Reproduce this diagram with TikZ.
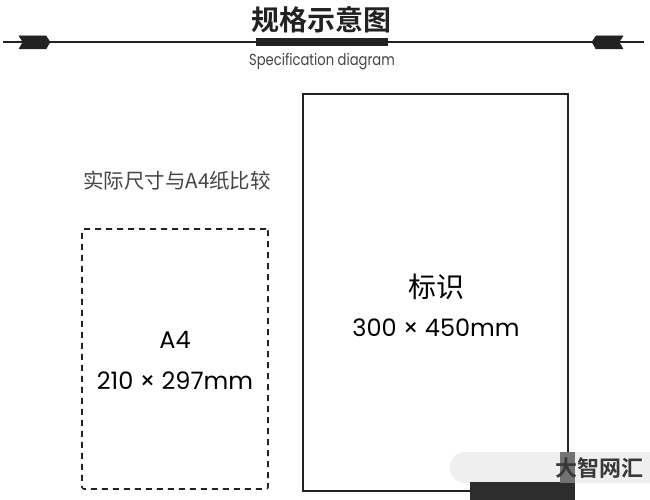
\documentclass[tikz,border=0pt]{standalone}
\usepackage{fontspec}
\usepackage{xcolor}
\usepackage{tikz}
\usetikzlibrary{positioning}
\newfontfamily\cjk{Noto Sans CJK SC}
\newfontfamily\cjkbold{Noto Sans CJK SC Bold}
\newfontfamily\geo{Poppins}
\newfontfamily\geonarrow[FakeStretch=0.82]{Poppins}
\definecolor{inkdark}{HTML}{222222}
\definecolor{inkgray}{HTML}{444444}
\definecolor{markgray}{HTML}{EFEFEF}
\tikzstyle{sheet} = [rectangle, draw=inkdark, line width=1.6pt, inner sep=0pt]
\tikzstyle{dimtext} = [font=\geo\fontsize{24}{27}\selectfont, text=black, inner sep=0pt]
\tikzstyle{rule} = [draw=inkdark, line width=1.4pt]
\tikzstyle{fletch} = [fill=inkdark, draw=inkdark, line width=0.5pt]

\begin{document}
\begin{tikzpicture}[x=1pt, y=-1pt]
    \useasboundingbox (0,0) rectangle (650,500);
    % Header
    \coordinate (lineL) at (3,42);
    \coordinate (lineR) at (644,42);
    \path [rule] (lineL) -- (lineR);
    \node [fill=inkdark, minimum width=132pt, minimum height=8pt, inner sep=0pt] (bar) at (322,42) {};
    \node [font=\cjkbold\fontsize{28}{30}\selectfont, text=inkdark, inner sep=0pt] (title) at (321,20) {规格示意图};
    \node [font=\geonarrow\fontsize{16}{18}\selectfont, text=inkgray, inner sep=0pt, below=7pt of bar] (subtitle) {Specification diagram};
    \path [fletch] (19,36) -- (46,36) -- (50,42) -- (46,49) -- (19,49) -- (23,42) -- cycle;
    \path [fletch] (592,42) -- (596,36) -- (623,36) -- (619,42) -- (623,49) -- (596,49) -- cycle;
    % Place nodes
    \node [font=\cjk\fontsize{20.5}{22}\selectfont, text=inkgray, inner sep=0pt] (compare) at (177,181) {实际尺寸与A4纸比较};
    \node [sheet, minimum width=265pt, minimum height=397pt] (signbox) at (435.5,292.5) {};
    \node [sheet, dashed, dash pattern=on 6pt off 5pt, rounded corners=2pt, minimum width=186pt, minimum height=260pt] (a4box) at (175,359) {};
    \node [font=\cjk\fontsize{28}{30}\selectfont, inner sep=0pt] (signname) at (436,287) {标识};
    \node [dimtext, below=19pt of signname] (signsize) {300 × 450mm};
    \node [dimtext] (a4name) at (175,340) {A4};
    \node [dimtext, below=23pt of a4name] (a4size) {210 × 297mm};
    % Watermark
    \path [fill=markgray, rounded corners=15pt] (450,452) rectangle (680,483);
    \path [fill=inkdark!95] (470,482) rectangle (575,500);
    \path [fill=black!55] (560,452) rectangle (575,483);
    \node [font=\cjkbold\fontsize{22}{24}\selectfont, text=inkdark!90, inner sep=0pt] (mark) at (599,468) {大智网汇};
\end{tikzpicture}
\end{document}
